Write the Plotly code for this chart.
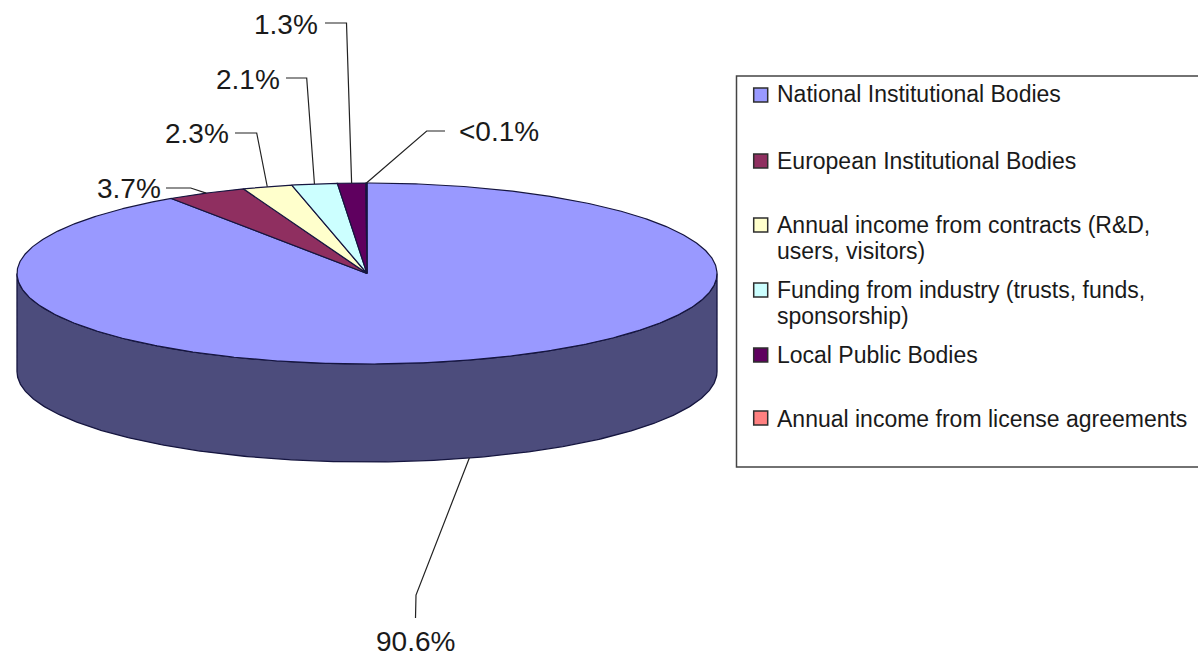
import math
import plotly.graph_objects as go

# Funding shares, listed clockwise from twelve o'clock
categories = [
    ["National Institutional Bodies"],
    ["European Institutional Bodies"],
    ["Annual income from contracts (R&D,", "users, visitors)"],
    ["Funding from industry (trusts, funds,", "sponsorship)"],
    ["Local Public Bodies"],
    ["Annual income from license agreements"],
]
shares = [90.6, 3.7, 2.3, 2.1, 1.3, 0.05]
share_labels = ["90.6%", "3.7%", "2.3%", "2.1%", "1.3%", "<0.1%"]
top_colors = ["#9999FF", "#8F2F60", "#FFFFCC", "#CCFFFF", "#5F005F", "#FF8080"]
wall_colors = ["#4C4C7C", "#4C1A33", "#808066", "#668080", "#330033", "#804040"]

# Disc geometry on a canvas measured in pixels
CX, CY, RX, RY, DEPTH = 367.0, 273.5, 350.0, 90.5, 98.0
OUTLINE = "#15153F"
LEADER = "#222222"
FONT = "Liberation Sans"
TEXT = "#1A1A1A"

# Elbows of the leader lines and anchors of the value labels
leader_elbows = [
    [(416, 595), (415.5, 618)],
    [(190.7, 188), (166, 188)],
    [(256.7, 133), (235, 133)],
    [(306.7, 78), (286, 78)],
    [(346.5, 23), (325, 23)],
    [(426.7, 131), (445, 131)],
]
label_anchors = [
    (415, 641, "center"),
    (163, 188, "right"),
    (231, 133, "right"),
    (282, 79, "right"),
    (320, 24, "right"),
    (457, 131, "left"),
]

# Legend rows: vertical centre of each swatch and of each text line
legend_swatch_y = [95, 161, 225, 290, 355, 418]
legend_line_y = [[94], [160.5], [225, 251], [290, 316], [355], [418.5]]


def rim(theta_deg, drop=0.0):
    t = math.radians(theta_deg)
    return CX + RX * math.sin(t), CY - RY * math.cos(t) + drop


def arc(start, end, drop=0.0):
    n = max(2, int(abs(end - start) * 2) + 1)
    return [rim(start + (end - start) * i / (n - 1), drop) for i in range(n)]


total = sum(shares)
edges = [0.0]
for s in shares:
    edges.append(edges[-1] + 360.0 * s / total)

fig = go.Figure()


def polygon(points, fill, width=1.0):
    fig.add_trace(go.Scatter(
        x=[p[0] for p in points], y=[p[1] for p in points],
        mode="lines", fill="toself", fillcolor=fill,
        line=dict(color=OUTLINE, width=width),
        hoverinfo="skip", showlegend=False,
    ))


# Front wall: only the part of each slice between 90 and 270 degrees shows
for i, color in enumerate(wall_colors):
    a, b = max(edges[i], 90.0), min(edges[i + 1], 270.0)
    if a < b:
        polygon(arc(a, b) + arc(b, a, DEPTH) + [rim(a)], color, 1.3)

# Top face of the disc
for i, color in enumerate(top_colors):
    polygon([(CX, CY)] + arc(edges[i], edges[i + 1]) + [(CX, CY)], color, 1.2)

# Leader lines start at the rim point of each slice's mid-angle
annotations = []
for i, label in enumerate(share_labels):
    mid = (edges[i] + edges[i + 1]) / 2
    front = math.cos(math.radians(mid)) < 0
    start = rim(mid, DEPTH if front else 0.0)
    path = [start] + leader_elbows[i]
    fig.add_trace(go.Scatter(
        x=[p[0] for p in path], y=[p[1] for p in path], mode="lines",
        line=dict(color=LEADER, width=1.2), hoverinfo="skip", showlegend=False,
    ))
    ax, ay, anchor = label_anchors[i]
    annotations.append(dict(
        x=ax, y=ay, text=label, showarrow=False, xanchor=anchor, yanchor="middle",
        font=dict(family=FONT, size=28, color=TEXT),
    ))

# Legend swatches and their texts
fig.add_trace(go.Scatter(
    x=[760.7] * len(categories), y=legend_swatch_y, mode="markers",
    marker=dict(symbol="square", size=14, color=top_colors,
                line=dict(color="#2E2E2E", width=1.5)),
    hoverinfo="skip", showlegend=False,
))
for lines, ys in zip(categories, legend_line_y):
    for line, y in zip(lines, ys):
        annotations.append(dict(
            x=774.5, y=y, text=line, showarrow=False, xanchor="left", yanchor="middle",
            align="left", font=dict(family=FONT, size=23, color=TEXT),
        ))

fig.update_layout(
    width=1198, height=656, margin=dict(l=0, r=0, t=0, b=0),
    paper_bgcolor="white", plot_bgcolor="white",
    xaxis=dict(range=[0, 1198], visible=False, fixedrange=True),
    yaxis=dict(range=[656, 0], visible=False, fixedrange=True),
    annotations=annotations,
    shapes=[dict(type="rect", xref="x", yref="y", x0=736.5, x1=1215, y0=76, y1=467,
                 line=dict(color="#444444", width=1.5), fillcolor="rgba(0,0,0,0)",
                 layer="below")],
)

fig.write_html("out.html", config=dict(displayModeBar=False))
